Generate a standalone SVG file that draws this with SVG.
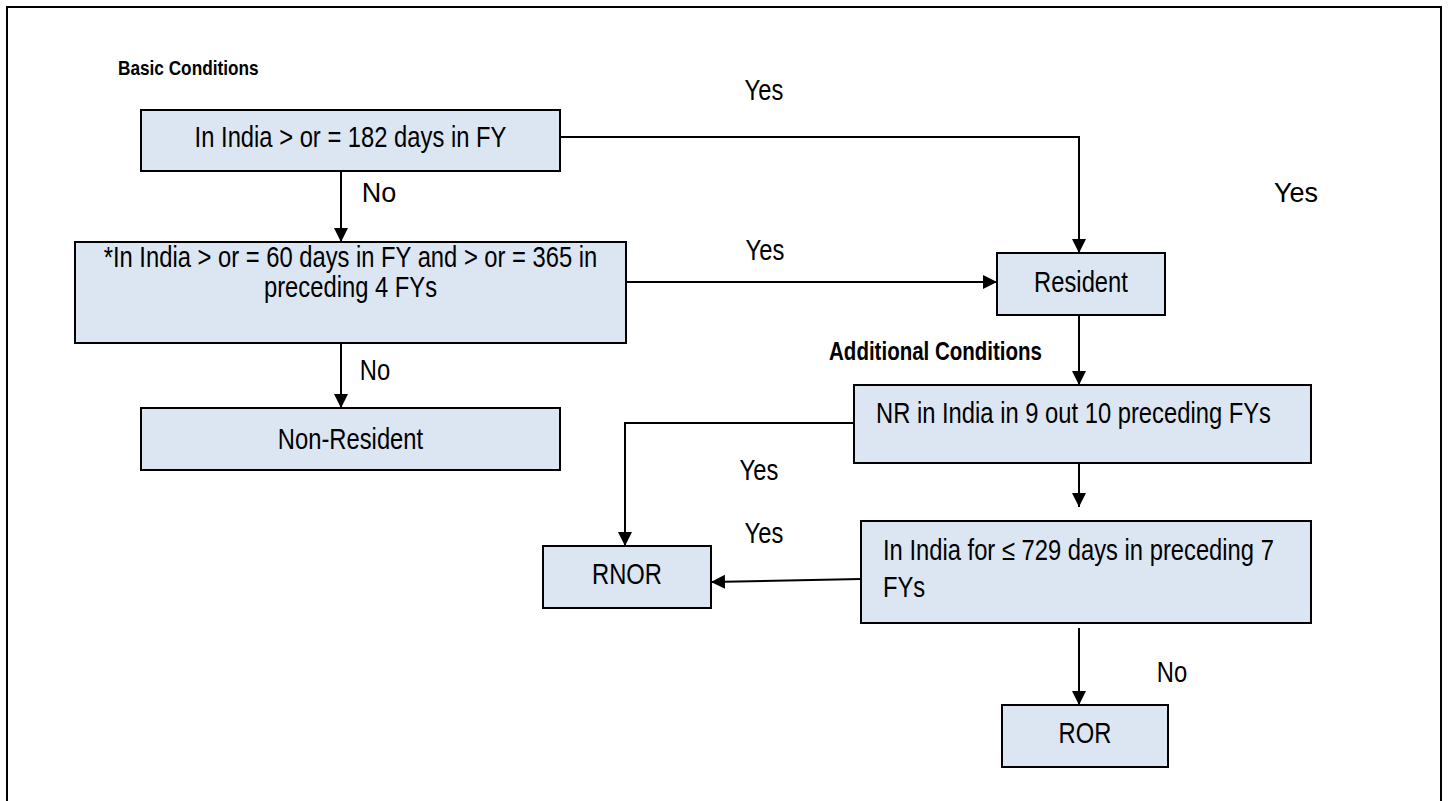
<svg xmlns="http://www.w3.org/2000/svg" width="1449" height="801" viewBox="0 0 1449 801">
<style>
.box{fill:#dce6f2;stroke:#000;stroke-width:2}
.t{font-family:"Liberation Sans",Arial,sans-serif;font-size:29px;fill:#000}
.b{font-family:"Liberation Sans",Arial,sans-serif;font-weight:bold;fill:#000}
.w{font-family:"Liberation Sans",Arial,sans-serif;font-size:27px;fill:#000}
.c{fill:none;stroke:#000;stroke-width:2}
</style>
<defs>
<marker id="ah" markerUnits="userSpaceOnUse" markerWidth="16" markerHeight="16" refX="14" refY="7" orient="auto">
<path d="M0,0 L14,7 L0,14 Z" fill="#000"/>
</marker>
</defs>
<rect width="1449" height="801" fill="#fff"/>
<path d="M7,801 V7 H1441 V801" fill="none" stroke="#000" stroke-width="2"/>
<text class="b" font-size="21" transform="translate(118 75) scale(0.82 1)">Basic Conditions</text>
<text class="b" font-size="25" text-anchor="end" transform="translate(1042 360) scale(0.82 1)">Additional Conditions</text>

<g id="connectors">
<path class="c" d="M560,137 H1079 V253" marker-end="url(#ah)"/>
<path class="c" d="M341,171 V242" marker-end="url(#ah)"/>
<path class="c" d="M626,282 H997" marker-end="url(#ah)"/>
<path class="c" d="M341,343 V408" marker-end="url(#ah)"/>
<path class="c" d="M1079,315 V385" marker-end="url(#ah)"/>
<path class="c" d="M854,423 H625 V546" marker-end="url(#ah)"/>
<path class="c" d="M1079,464 V507" marker-end="url(#ah)"/>
<path class="c" d="M861,579 L711,582" marker-end="url(#ah)"/>
<path class="c" d="M1079,628 V705" marker-end="url(#ah)"/>
<text class="t" text-anchor="middle" transform="translate(764 100) scale(0.82 1)">Yes</text>
<text class="w" x="1296" y="202" text-anchor="middle">Yes</text>
<text class="w" x="379" y="202" text-anchor="middle">No</text>
<text class="t" text-anchor="middle" transform="translate(765 260) scale(0.82 1)">Yes</text>
<text class="t" text-anchor="middle" transform="translate(375 380) scale(0.82 1)">No</text>
<text class="t" text-anchor="middle" transform="translate(759 480) scale(0.82 1)">Yes</text>
<text class="t" text-anchor="middle" transform="translate(764 543) scale(0.82 1)">Yes</text>
<text class="t" text-anchor="middle" transform="translate(1172 682) scale(0.82 1)">No</text>
</g>

<g id="n1">
<rect class="box" x="141" y="110" width="419" height="61"/>
<text class="t" text-anchor="middle" transform="translate(350.5 147) scale(0.82 1)">In India &gt; or = 182 days in FY</text>
</g>
<g id="n2">
<rect class="box" x="75" y="242" width="551" height="101"/>
<text class="t" text-anchor="middle" transform="translate(350.5 267) scale(0.82 1)">*In India &gt; or = 60 days in FY and &gt; or = 365 in</text>
<text class="t" text-anchor="middle" transform="translate(350.5 297) scale(0.82 1)">preceding 4 FYs</text>
</g>
<g id="nonresident">
<rect class="box" x="141" y="408" width="419" height="62"/>
<text class="t" text-anchor="middle" transform="translate(350.5 449) scale(0.82 1)">Non-Resident</text>
</g>
<g id="resident">
<rect class="box" x="997" y="253" width="168" height="62"/>
<text class="t" text-anchor="middle" transform="translate(1081 292) scale(0.82 1)">Resident</text>
</g>
<g id="nr">
<rect class="box" x="854" y="385" width="457" height="78"/>
<text class="t" transform="translate(876 423) scale(0.82 1)">NR in India in 9 out 10 preceding FYs</text>
</g>
<g id="days729">
<rect class="box" x="861" y="521" width="450" height="102"/>
<text class="t" transform="translate(883 560) scale(0.82 1)">In India for ≤ 729 days in preceding 7</text>
<text class="t" transform="translate(883 597) scale(0.82 1)">FYs</text>
</g>
<g id="rnor">
<rect class="box" x="543" y="546" width="168" height="62"/>
<text class="t" text-anchor="middle" transform="translate(627 584) scale(0.82 1)">RNOR</text>
</g>
<g id="ror">
<rect class="box" x="1002" y="705" width="166" height="62"/>
<text class="t" text-anchor="middle" transform="translate(1085 743) scale(0.82 1)">ROR</text>
</g>
</svg>
